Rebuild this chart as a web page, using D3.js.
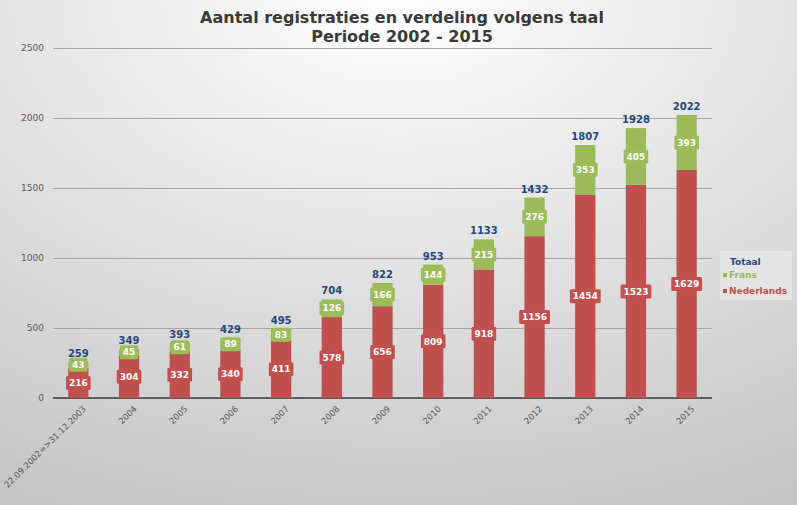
<!DOCTYPE html>
<html><head><meta charset="utf-8">
<script src="https://cdn.jsdelivr.net/npm/d3@7"></script>
<style>body{margin:0;}svg{display:block;}</style>
</head><body>
<svg id="c" width="797" height="505"></svg>
<script>
const categories = ["22.09.2002=>31.12.2003","2004","2005","2006","2007","2008","2009","2010","2011","2012","2013","2014","2015"];
const nederlands = [216,304,332,340,411,578,656,809,918,1156,1454,1523,1629];
const frans = [43,45,61,89,83,126,166,144,215,276,353,405,393];
const totaal = [259,349,393,429,495,704,822,953,1133,1432,1807,1928,2022];
const yTicks = [0,500,1000,1500,2000,2500];
const titleLines = ["Aantal registraties en verdeling volgens taal","Periode 2002 - 2015"];

const svg = d3.select("#c");
const W = 797, H = 505;
const defs = svg.append("defs");
const rg = defs.append("radialGradient").attr("id","bg").attr("cx","50%").attr("cy","0%").attr("r","110%")
  .attr("gradientUnits","objectBoundingBox");
rg.append("stop").attr("offset","0%").attr("stop-color","#ffffff");
rg.append("stop").attr("offset","55%").attr("stop-color","#dedede");
rg.append("stop").attr("offset","100%").attr("stop-color","#c4c4c4");
svg.append("rect").attr("width",W).attr("height",H).attr("fill","url(#bg)");

const font = "'DejaVu Sans', Verdana, sans-serif";
const m = {left:53, right:85, top:48, bottom:107};
const x = d3.scaleBand().domain(categories).range([m.left, W - m.right]).paddingInner(0.6).paddingOuter(0.3);
const y = d3.scaleLinear().domain([0,2500]).range([H - m.bottom, m.top]);

// title
svg.append("g").selectAll("text").data(titleLines).join("text")
  .attr("x", 402).attr("y",(d,i)=>23 + i*19).attr("text-anchor","middle")
  .attr("font-family",font).attr("font-weight","bold").attr("font-size",16).attr("fill","#3a3a3a")
  .text(d=>d);

// y axis / grid
const yAxis = svg.append("g").attr("transform",`translate(${m.left},0)`)
  .call(d3.axisLeft(y).tickValues(yTicks).tickSize(-(W - m.right - m.left)).tickPadding(9).tickFormat(d3.format("d")));
yAxis.select(".domain").remove();
yAxis.selectAll(".tick line").attr("stroke","#a6a6a6").attr("stroke-width",1);
yAxis.selectAll(".tick text").attr("font-family",font).attr("font-size",9).attr("fill","#595959");

// x axis
const xAxis = svg.append("g").attr("transform",`translate(0,${y(0)})`)
  .call(d3.axisBottom(x).tickSize(0).tickPadding(6));
xAxis.select(".domain").attr("stroke","#404040").attr("stroke-width",1.5)
  .attr("d",`M${m.left},0H${W - m.right}`);
xAxis.selectAll(".tick text").attr("font-family",font).attr("font-size",8.5).attr("fill","#595959")
  .attr("text-anchor","end").attr("transform","translate(2,5) rotate(-45)").attr("dy","0.35em");

const red = "#c0504d", green = "#9bbb59", blue = "#1f497d";
const bars = svg.append("g");
bars.selectAll("rect.nl").data(categories).join("rect").attr("class","nl")
  .attr("x",d=>x(d)).attr("width",x.bandwidth())
  .attr("y",(d,i)=>y(nederlands[i])).attr("height",(d,i)=>y(0)-y(nederlands[i])).attr("fill",red);
bars.selectAll("rect.fr").data(categories).join("rect").attr("class","fr")
  .attr("x",d=>x(d)).attr("width",x.bandwidth())
  .attr("y",(d,i)=>y(nederlands[i]+frans[i])).attr("height",(d,i)=>y(nederlands[i])-y(nederlands[i]+frans[i])).attr("fill",green);

// data labels with boxes
function labels(vals, base, fill){
  const g = svg.append("g");
  categories.forEach((c,i)=>{
    const cx = x(c) + x.bandwidth()/2;
    const cy = y(base[i] + vals[i]/2);
    const t = String(vals[i]);
    const w = t.length*6.2 + 6;
    g.append("rect").attr("x",cx - w/2).attr("y",cy - 7).attr("width",w).attr("height",14)
      .attr("rx",1.5).attr("fill",fill);
    g.append("text").attr("x",cx).attr("y",cy).attr("dy","0.35em").attr("text-anchor","middle")
      .attr("font-family",font).attr("font-weight","bold").attr("font-size",9).attr("fill","#ffffff").text(t);
  });
}
labels(nederlands, nederlands.map(()=>0), "#c3504e");
labels(frans, nederlands, "#9cbd58");

svg.append("g").selectAll("text").data(categories).join("text")
  .attr("x",d=>x(d)+x.bandwidth()/2).attr("y",(d,i)=>y(Math.max(totaal[i], nederlands[i]+frans[i])) - 5)
  .attr("text-anchor","middle").attr("font-family",font).attr("font-weight","bold").attr("font-size",10)
  .attr("fill",blue).text((d,i)=>totaal[i]);

// legend
const lg = svg.append("g");
lg.append("rect").attr("x",720).attr("y",251).attr("width",72).attr("height",49).attr("fill","#e6e6e6").attr("opacity",0.8);
lg.append("text").attr("x",730).attr("y",262).attr("dy","0.35em").attr("font-family",font).attr("font-weight","bold")
  .attr("font-size",9).attr("fill",blue).text("Totaal");
const items = [["Frans",green],["Nederlands",red]];
items.forEach((it,i)=>{
  const yy = 275 + i*16;
  lg.append("rect").attr("x",723).attr("y",yy-2).attr("width",4).attr("height",4).attr("fill",it[1]);
  lg.append("text").attr("x",729).attr("y",yy).attr("dy","0.35em").attr("font-family",font).attr("font-weight","bold")
    .attr("font-size",9).attr("fill",it[1]).text(it[0]);
});
</script>
</body></html>
